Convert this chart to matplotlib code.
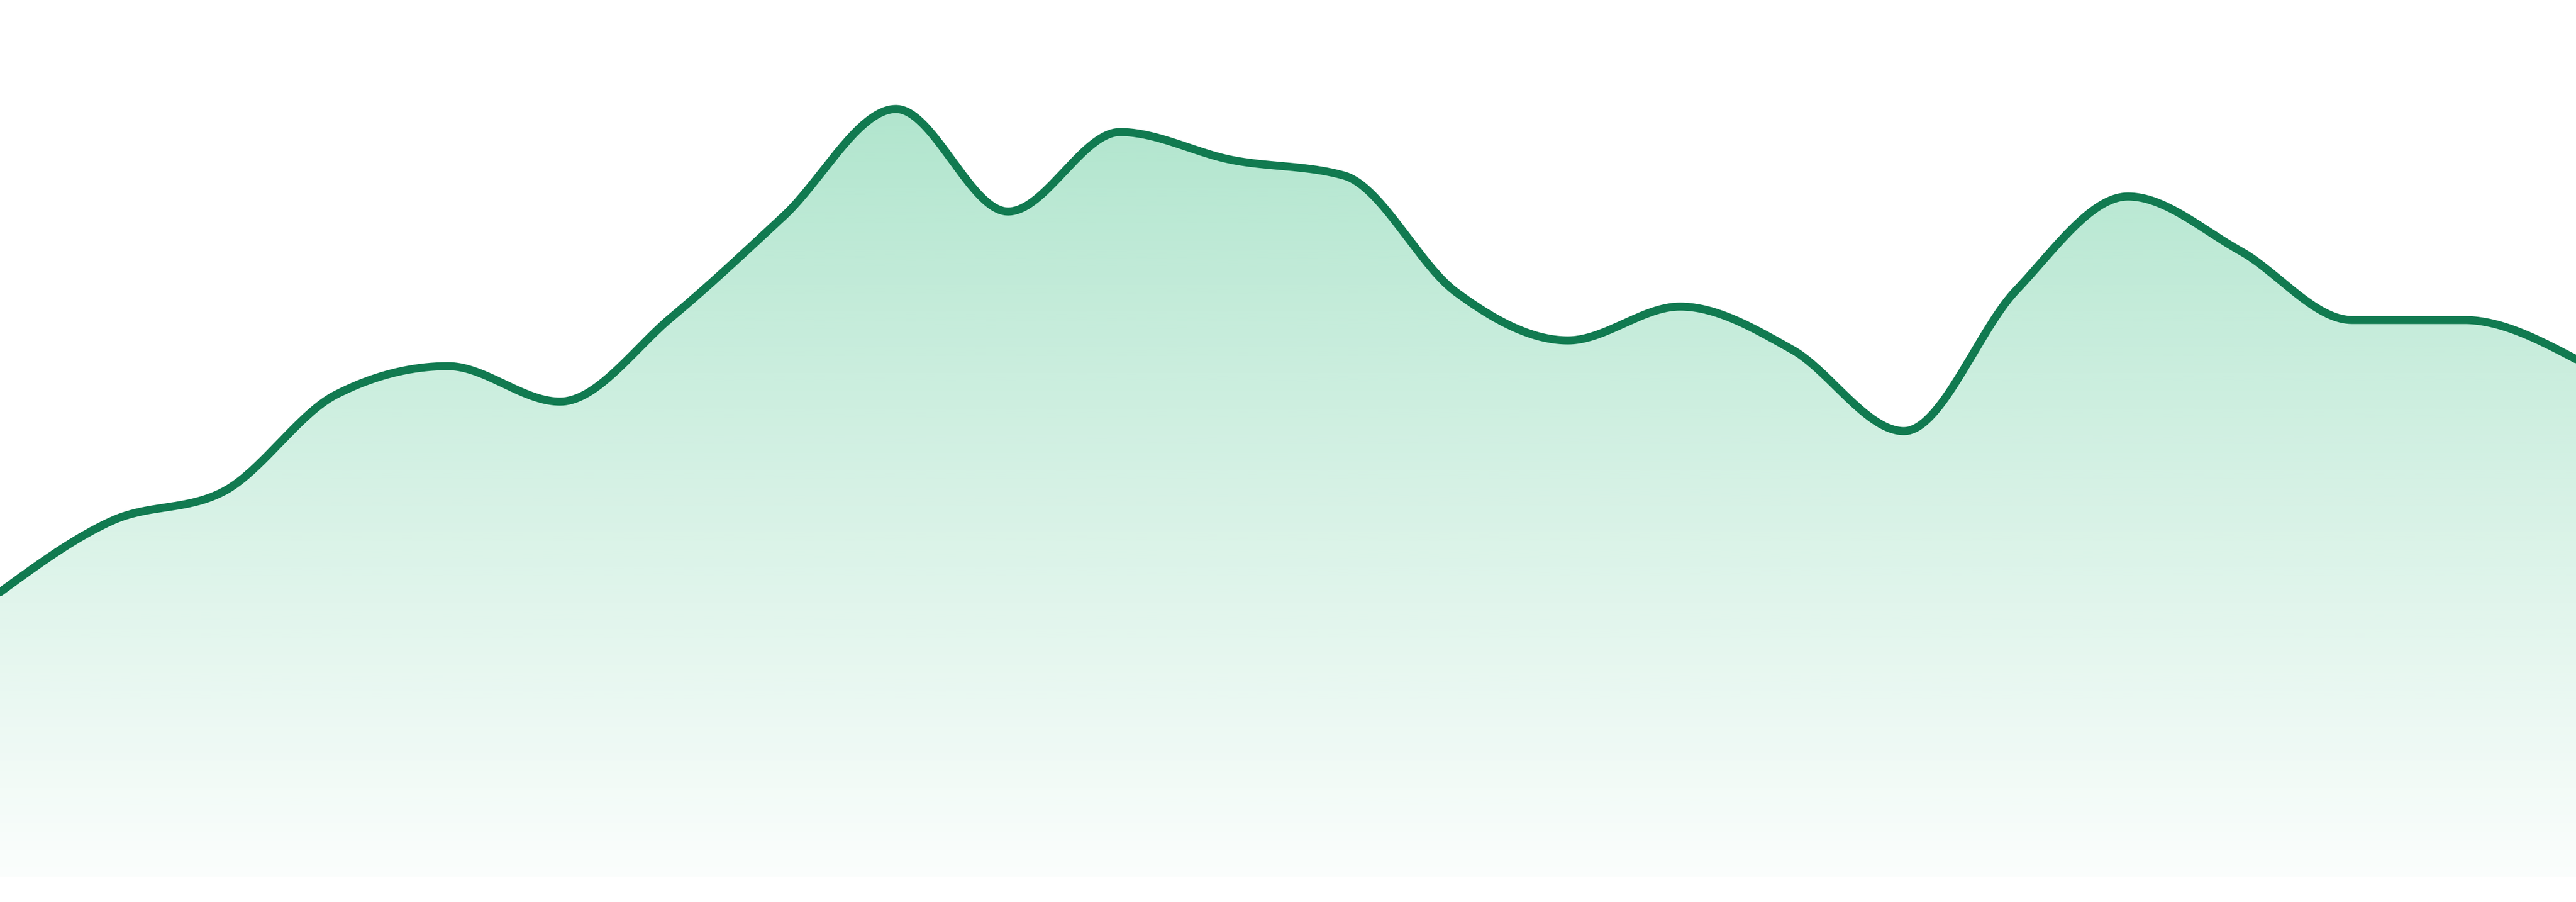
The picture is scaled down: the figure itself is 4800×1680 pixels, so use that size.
import numpy as np
import matplotlib.pyplot as plt
from matplotlib.path import Path
from matplotlib.patches import PathPatch

# values (24 evenly spaced points, no axes shown)
points = list(range(24))
values = [53.0, 66.3, 71.8, 89.8, 95.1, 88.5, 104.3, 123.1, 143.0, 123.9,
          138.7, 133.5, 130.6, 108.9, 99.9, 106.2, 98.2, 83.0, 109.2, 126.7,
          116.6, 103.7, 103.7, 96.4]

line_color = "#117A50"
fill_rgb = (38 / 255, 184 / 255, 118 / 255)


def monotone_x(xs, ys, steps=40):
    # monotone cubic smoothing, same idea as d3.curveMonotoneX
    xs = np.asarray(xs, float)
    ys = np.asarray(ys, float)
    h = np.diff(xs)
    s = np.diff(ys) / h
    m = np.zeros(len(xs))
    for i in range(1, len(xs) - 1):
        p = (s[i - 1] * h[i] + s[i] * h[i - 1]) / (h[i - 1] + h[i])
        m[i] = (np.sign(s[i - 1]) + np.sign(s[i])) * min(abs(s[i - 1]), abs(s[i]), 0.5 * abs(p))
    m[0] = (3 * s[0] - m[1]) / 2
    m[-1] = (3 * s[-1] - m[-2]) / 2
    out_x, out_y = [], []
    t = np.linspace(0, 1, steps, endpoint=False)
    for i in range(len(xs) - 1):
        h00 = 2 * t**3 - 3 * t**2 + 1
        h10 = t**3 - 2 * t**2 + t
        h01 = -2 * t**3 + 3 * t**2
        h11 = t**3 - t**2
        out_x.append(xs[i] + t * h[i])
        out_y.append(h00 * ys[i] + h10 * h[i] * m[i] + h01 * ys[i + 1] + h11 * h[i] * m[i + 1])
    out_x.append([xs[-1]])
    out_y.append([ys[-1]])
    return np.concatenate(out_x), np.concatenate(out_y)


fig = plt.figure(figsize=(16, 5.6), dpi=300)
ax = fig.add_axes([0, 0.028, 1, 0.972])
ax.set_xlim(points[0], points[-1])
ax.set_ylim(0, 163.3)
ax.axis("off")

cx, cy = monotone_x(points, values)
top = cy.max()

# vertical gradient fill under the line
alpha = np.linspace(0.02, 0.36, 256)
grad = np.zeros((256, 1, 4))
grad[:, 0, :3] = fill_rgb
grad[:, 0, 3] = alpha
im = ax.imshow(grad, extent=(points[0], points[-1], 0, top), origin="lower",
               aspect="auto", interpolation="bilinear", zorder=1)

verts = list(zip(cx, cy)) + [(points[-1], 0), (points[0], 0)]
clip = PathPatch(Path(verts), transform=ax.transData, facecolor="none", edgecolor="none")
ax.add_patch(clip)
im.set_clip_path(clip)

ax.plot(cx, cy, color=line_color, linewidth=3.6, solid_capstyle="round", zorder=2)

fig.savefig("out.png", dpi=300)
